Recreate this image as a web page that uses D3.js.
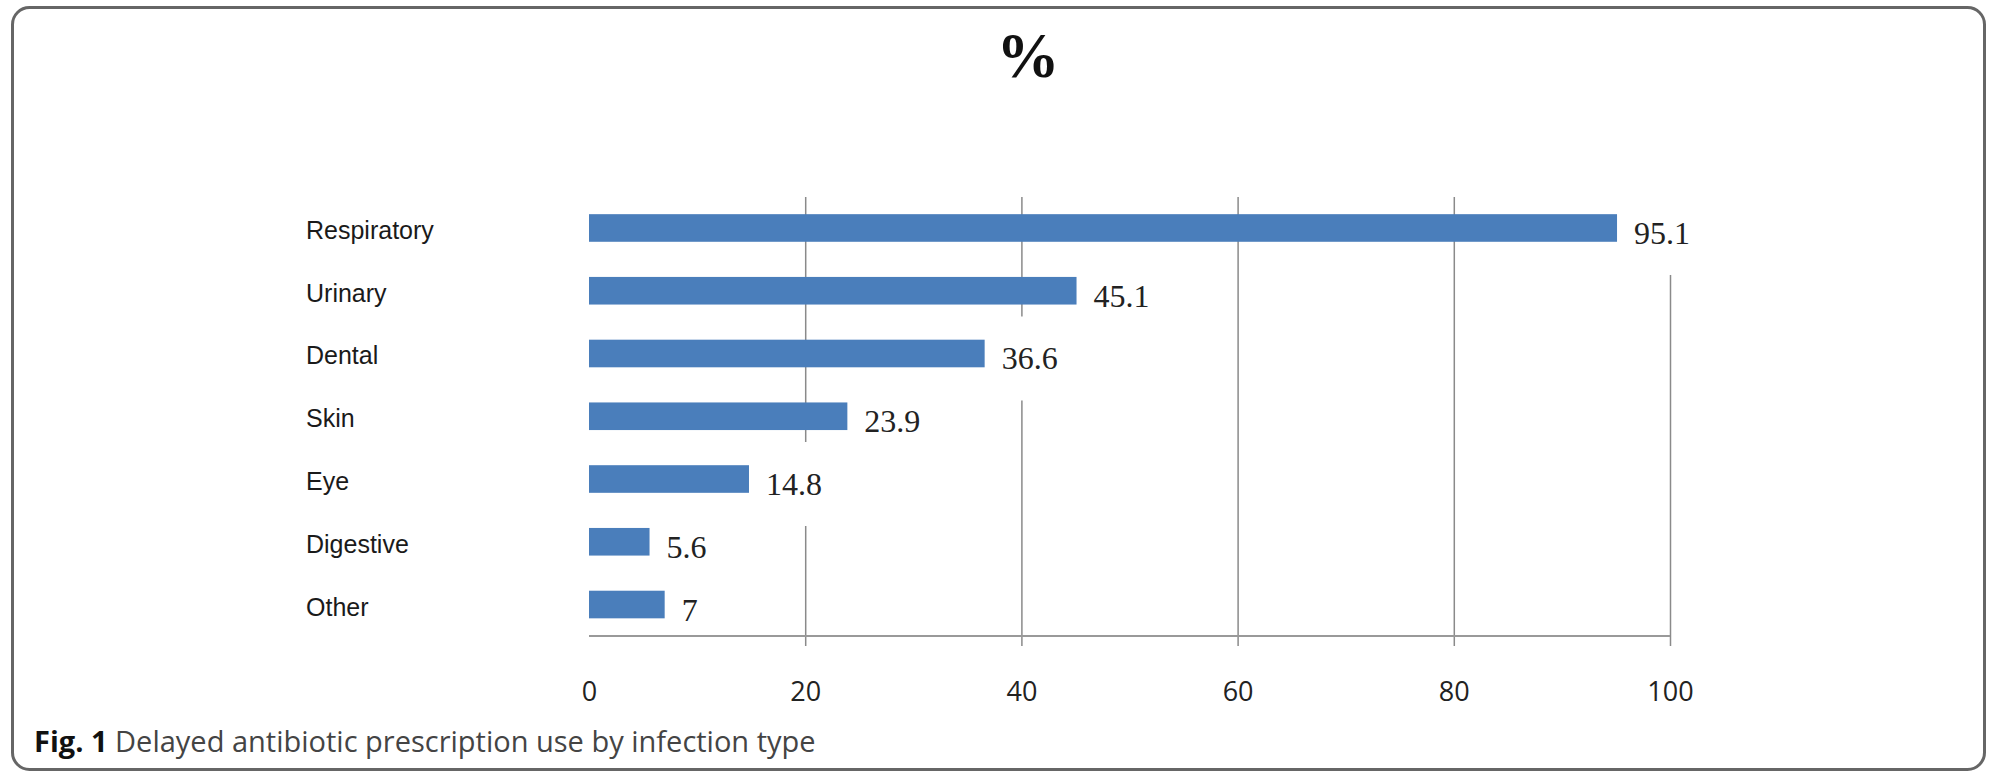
<!DOCTYPE html>
<html>
<head>
<meta charset="utf-8">
<script src="https://cdn.jsdelivr.net/npm/d3@7"></script>
<style>
    html, body { margin: 0; padding: 0; background: #fff; }
    svg { display: block; }
</style>
</head>
<body>
<div id="chart"></div>
<script>
// Delayed antibiotic prescription use by infection type
const categories = ['Respiratory', 'Urinary', 'Dental', 'Skin', 'Eye', 'Digestive', 'Other'];
const values = [95.1, 45.1, 36.6, 23.9, 14.8, 5.6, 7];
const valueLabels = ['95.1', '45.1', '36.6', '23.9', '14.8', '5.6', '7'];
const xTicks = [0, 20, 40, 60, 80, 100];

const width = 1995;
const height = 775;
const BAR_COLOR = '#4a7ebb';
const GRID_COLOR = '#8a8a8a';

const plot = { left: 589, right: 1670, top: 197, bottom: 636 };

const svg = d3.select('#chart')
    .append('svg')
    .attr('width', width)
    .attr('height', height);

// frame
svg.append('rect')
    .attr('x', 12.5)
    .attr('y', 7.5)
    .attr('width', 1972)
    .attr('height', 762)
    .attr('rx', 17)
    .attr('fill', '#fff')
    .attr('stroke', '#666')
    .attr('stroke-width', 3);

svg.append('text')
    .attr('x', 1028)
    .attr('y', 77)
    .attr('text-anchor', 'middle')
    .attr('font-family', '"Liberation Serif", "Times New Roman", serif')
    .attr('font-weight', 'bold')
    .attr('font-size', 63)
    .attr('fill', '#111')
    .text('%');

const x = d3.scaleLinear()
    .domain([0, 100])
    .range([plot.left, plot.right]);

const y = d3.scaleBand()
    .domain(categories)
    .range([196.6, 635.9])
    .paddingInner(0.56)
    .paddingOuter(0.28);

// gridlines + tick labels
const axis = svg.append('g')
    .attr('transform', `translate(0,${plot.bottom})`)
    .call(d3.axisBottom(x)
        .tickValues(xTicks)
        .tickSize(-(plot.bottom - plot.top))
        .tickSizeOuter(0)
        .tickPadding(46));

axis.select('.domain').remove();

axis.selectAll('.tick line')
    .attr('y1', 10)
    .attr('stroke', GRID_COLOR)
    .attr('stroke-width', 1.5);

axis.selectAll('.tick').filter(d => d === 0).select('line').remove();

axis.selectAll('.tick text')
    .attr('font-family', '"Open Sans", sans-serif')
    .attr('font-size', 27)
    .attr('fill', '#222');

// category labels
svg.append('g')
    .selectAll('text')
    .data(categories)
    .join('text')
    .attr('x', 306)
    .attr('y', d => y(d) + y.bandwidth() / 2 + 2)
    .attr('dominant-baseline', 'central')
    .attr('font-family', '"Liberation Sans", Arial, sans-serif')
    .attr('font-size', 25)
    .attr('fill', '#1a1a1a')
    .text(d => d);

// value labels sit on white boxes that hide the gridlines behind them
const labelGroup = svg.append('g');
const labels = labelGroup.selectAll('g')
    .data(categories)
    .join('g');

labels.append('text')
    .attr('x', (d, i) => x(values[i]) + 17)
    .attr('y', d => y(d) + y.bandwidth() / 2 + 5)
    .attr('dominant-baseline', 'central')
    .attr('font-family', '"Liberation Serif", "Times New Roman", serif')
    .attr('font-size', 32)
    .attr('fill', '#222')
    .text((d, i) => valueLabels[i]);

labels.each(function () {
    const g = d3.select(this);
    const box = g.select('text').node().getBBox();
    g.insert('rect', 'text')
        .attr('x', box.x - 6)
        .attr('y', box.y + box.height / 2 - 42)
        .attr('width', box.width + 12)
        .attr('height', 84)
        .attr('fill', '#fff');
});

// baseline on top of the label boxes
svg.append('line')
    .attr('x1', x(0))
    .attr('x2', x(100))
    .attr('y1', plot.bottom)
    .attr('y2', plot.bottom)
    .attr('stroke', '#999')
    .attr('stroke-width', 2);

// bars
svg.append('g')
    .selectAll('rect')
    .data(categories)
    .join('rect')
    .attr('x', x(0))
    .attr('y', d => y(d))
    .attr('width', (d, i) => x(values[i]) - x(0))
    .attr('height', y.bandwidth())
    .attr('fill', BAR_COLOR);

// caption
const caption = svg.append('text')
    .attr('x', 34)
    .attr('y', 752)
    .attr('font-family', '"Open Sans", sans-serif')
    .attr('font-size', 29)
    .attr('fill', '#444');

caption.append('tspan')
    .attr('font-weight', 'bold')
    .attr('fill', '#111')
    .text('Fig. 1');

caption.append('tspan')
    .text(' Delayed antibiotic prescription use by infection type');
</script>
</body>
</html>
